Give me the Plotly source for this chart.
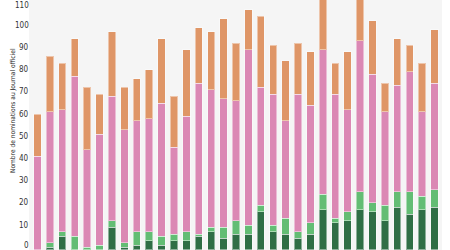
import plotly.graph_objects as go

categories = list(range(1, 34))
dark_green = [0, 1, 6, 0, 0, 0, 10, 1, 2, 4, 2, 4, 4, 6, 8, 5, 7, 7, 17, 8, 7, 5, 7, 18, 12, 13, 18, 17, 13, 19, 16, 18, 19]
light_green = [0, 2, 2, 6, 1, 2, 3, 2, 6, 4, 4, 3, 4, 1, 2, 5, 6, 4, 3, 3, 7, 3, 5, 7, 2, 4, 8, 4, 7, 7, 10, 6, 8]
pink = [42, 59, 55, 72, 44, 50, 56, 51, 50, 51, 60, 39, 52, 68, 62, 58, 54, 79, 53, 59, 44, 62, 53, 65, 56, 46, 68, 58, 42, 48, 54, 38, 48]
orange = [19, 25, 21, 17, 28, 18, 29, 19, 19, 22, 29, 23, 30, 25, 26, 36, 26, 18, 32, 22, 27, 23, 24, 28, 14, 26, 22, 24, 13, 21, 12, 22, 24]
y_ticks = [0, 10, 20, 30, 40, 50, 60, 70, 80, 90, 100, 110]
y_title = "Nombre de nominations au Journal officiel"

FONT = "Liberation Sans Narrow, DejaVu Sans Condensed, sans-serif"

series = [
    (dark_green, "#2f6e45"),
    (light_green, "#63bd74"),
    (pink, "#db88b4"),
    (orange, "#df9667"),
]

fig = go.Figure()
for vals, col in series:
    fig.add_trace(go.Bar(
        x=categories, y=vals,
        marker=dict(color=col, line=dict(color="rgba(255,255,255,0.45)", width=1)),
        showlegend=False, hoverinfo="skip",
    ))

W, H = 450, 250
ml, mr = 29, 8


def label_shift(t):
    if t == 0:
        return 4.5
    if t == y_ticks[-1]:
        return 0
    return 2.2


annotations = [dict(
    text=str(t), showarrow=False, xref="paper", yref="y",
    x=0, y=t, xanchor="right", yanchor="middle",
    yshift=label_shift(t), xshift=1, borderpad=0,
    font=dict(family=FONT, size=8, color="#333333"),
) for t in y_ticks]
annotations.append(dict(
    text=y_title, textangle=-90, showarrow=False,
    xref="paper", yref="paper",
    x=(13 - ml) / (W - ml - mr), y=1 - 111 / H,
    xanchor="center", yanchor="middle", borderpad=0,
    font=dict(family=FONT, size=6.6, color="#222222"),
))

fig.update_layout(
    width=W, height=H,
    barmode="stack", bargap=0.41,
    margin=dict(l=ml, r=mr, t=0, b=0, pad=0),
    paper_bgcolor="white", plot_bgcolor="#f5f5f5",
    xaxis=dict(range=[0.315, 33.605], showticklabels=False, showgrid=False,
               zeroline=False, showline=False, ticks=""),
    yaxis=dict(range=[-0.2, 112.4], tickvals=y_ticks, showticklabels=False,
               showgrid=False, zeroline=False, showline=False, ticks=""),
    annotations=annotations,
)

fig.write_html("out.html")
